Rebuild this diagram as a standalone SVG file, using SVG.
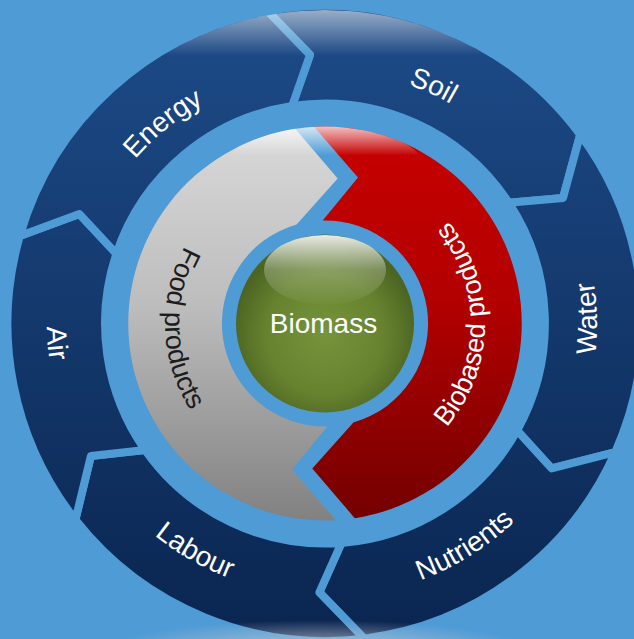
<svg xmlns="http://www.w3.org/2000/svg" width="634" height="639" viewBox="0 0 634 639">
  <style>
    .seg { fill: url(#ringFill); stroke: #4e9bd5; stroke-width: 8; stroke-linejoin: round; }
    .lbl { font-family: "Liberation Sans", Arial, sans-serif; font-size: 28px; fill: #ffffff; }
    .inner { font-size: 27px; }
    .dark { fill: #1c1c1c; }
  </style>
  <defs>
    <linearGradient id="ringFill" gradientUnits="userSpaceOnUse" x1="0" y1="10" x2="0" y2="637">
      <stop offset="0" stop-color="#1d4b88"/>
      <stop offset="1" stop-color="#0a2550"/>
    </linearGradient>
    <linearGradient id="grayFill" gradientUnits="userSpaceOnUse" x1="0" y1="127" x2="0" y2="521">
      <stop offset="0" stop-color="#d9d9d9"/>
      <stop offset="0.45" stop-color="#bdbdbd"/>
      <stop offset="1" stop-color="#818181"/>
    </linearGradient>
    <linearGradient id="redFill" gradientUnits="userSpaceOnUse" x1="0" y1="127" x2="0" y2="521">
      <stop offset="0" stop-color="#c80000"/>
      <stop offset="0.45" stop-color="#b20000"/>
      <stop offset="1" stop-color="#730000"/>
    </linearGradient>
    <radialGradient id="ballFill" gradientUnits="userSpaceOnUse" cx="325" cy="335" r="92">
      <stop offset="0" stop-color="#76943b"/>
      <stop offset="0.65" stop-color="#66822f"/>
      <stop offset="1" stop-color="#4d6522"/>
    </radialGradient>
    <linearGradient id="ringSheen" x1="0" y1="0" x2="0" y2="1">
      <stop offset="0" stop-color="#ffffff" stop-opacity="0.55"/>
      <stop offset="0.27" stop-color="#ffffff" stop-opacity="0"/>
    </linearGradient>
    <linearGradient id="bandSheen" x1="0" y1="0" x2="0" y2="1">
      <stop offset="0" stop-color="#ffffff" stop-opacity="0.8"/>
      <stop offset="0.34" stop-color="#ffffff" stop-opacity="0"/>
    </linearGradient>
    <linearGradient id="ballSheen" x1="0" y1="0" x2="0" y2="1">
      <stop offset="0" stop-color="#ffffff" stop-opacity="0.88"/>
      <stop offset="0.5" stop-color="#ffffff" stop-opacity="0.25"/>
      <stop offset="1" stop-color="#ffffff" stop-opacity="0.02"/>
    </linearGradient>
    <radialGradient id="floorGlow" cx="0.5" cy="0.5" r="0.5">
      <stop offset="0" stop-color="#c4cad3" stop-opacity="0.9"/>
      <stop offset="1" stop-color="#c4cad3" stop-opacity="0"/>
    </radialGradient>
    <clipPath id="clipRing"><circle cx="325" cy="323.5" r="313.5"/></clipPath>
    <clipPath id="clipBand"><circle cx="325" cy="323.5" r="197"/></clipPath>

    <!-- label baselines: clockwise arcs keep glyph tops outward, counter-clockwise arcs turn them inward -->
    <path id="arcEnergy" d="M75.38,297.26 A251,251 0 0 1 351.24,73.88"/>
    <path id="arcSoil" d="M236.40,86.52 A253,253 0 0 1 561.98,234.90"/>
    <path id="arcWater" d="M520.99,512.10 A272,272 0 0 0 513.60,127.51"/>
    <path id="arcNutrients" d="M263.83,590.58 A274,274 0 0 0 592.08,384.67"/>
    <path id="arcLabour" d="M62.64,395.27 A272,272 0 0 0 396.77,585.86"/>
    <path id="arcAir" d="M114.55,141.85 A278,278 0 0 0 143.35,533.95"/>
    <path id="arcFood" d="M291.73,167.00 A160,160 0 0 0 302.73,481.94"/>
    <path id="arcBio" d="M351.68,481.26 A160,160 0 0 0 353.88,166.13"/>
  </defs>

  <rect width="634" height="639" fill="#4e9bd5"/>

  <!-- outer ring of resources, six clockwise arrows -->
  <g id="resources">
    <g id="soil">
      <path class="seg" d="M267.7,11.2 A317.5,317.5 0 0 1 580.2,134.6 L563.0,198.0 L508.8,202.7 A220,220 0 0 0 292.1,106.0 L310.0,54.9 Z"/>
      <text class="lbl"><textPath href="#arcSoil" startOffset="50%" text-anchor="middle">Soil</textPath></text>
    </g>
    <g id="water">
      <path class="seg" d="M580.2,134.6 A317.5,317.5 0 0 1 615.3,452.1 L551.6,468.4 L517.1,430.5 A220,220 0 0 0 508.8,202.7 L563.0,198.0 Z"/>
      <text class="lbl"><textPath href="#arcWater" startOffset="50%" text-anchor="middle">Water</textPath></text>
    </g>
    <g id="nutrients">
      <path class="seg" d="M615.3,452.1 A317.5,317.5 0 0 1 364.2,638.6 L319.4,592.4 L341.5,542.9 A220,220 0 0 0 517.1,430.5 L551.6,468.4 Z"/>
      <text class="lbl"><textPath href="#arcNutrients" startOffset="50%" text-anchor="middle">Nutrients</textPath></text>
    </g>
    <g id="labour">
      <path class="seg" d="M364.2,638.6 A317.5,317.5 0 0 1 75.4,519.8 L90.9,456.0 L145.0,450.0 A220,220 0 0 0 341.5,542.9 L319.4,592.4 Z"/>
      <text class="lbl"><textPath href="#arcLabour" startOffset="50%" text-anchor="middle">Labour</textPath></text>
    </g>
    <g id="air">
      <path class="seg" d="M75.4,519.8 A317.5,317.5 0 0 1 19.8,236.0 L79.3,214.1 L116.4,253.7 A220,220 0 0 0 145.0,450.0 L90.9,456.0 Z"/>
      <text class="lbl"><textPath href="#arcAir" startOffset="50%" text-anchor="middle">Air</textPath></text>
    </g>
    <g id="energy">
      <path class="seg" d="M19.8,236.0 A317.5,317.5 0 0 1 267.7,11.2 L310.0,54.9 L292.1,106.0 A220,220 0 0 0 116.4,253.7 L79.3,214.1 Z"/>
      <text class="lbl"><textPath href="#arcEnergy" startOffset="50%" text-anchor="middle">Energy</textPath></text>
    </g>
    <ellipse cx="325" cy="95" rx="195" ry="85" fill="url(#ringSheen)" clip-path="url(#clipRing)"/>
  </g>

  <!-- inner band of products, two clockwise arrows -->
  <g id="products">
    <g id="food-products">
      <path fill="url(#grayFill)" d="M336.0,520.2 A197,197 0 0 1 295.2,128.8 L337.7,178.5 L296.6,224.5 A103,103 0 0 0 327.3,426.5 L292.0,469.5 Z"/>
      <text class="lbl inner dark"><textPath href="#arcFood" startOffset="50%" text-anchor="middle">Food products</textPath></text>
    </g>
    <g id="biobased-products">
      <path fill="url(#redFill)" d="M314.0,126.8 A197,197 0 0 1 354.8,518.2 L312.3,468.5 L353.4,422.5 A103,103 0 0 0 322.7,220.5 L358.0,177.5 Z"/>
      <text class="lbl inner"><textPath href="#arcBio" startOffset="50%" text-anchor="middle">Biobased products</textPath></text>
    </g>
    <ellipse cx="325" cy="170" rx="100" ry="45" fill="url(#bandSheen)" clip-path="url(#clipBand)"/>
  </g>

  <!-- centre ball -->
  <g id="biomass">
    <circle cx="325" cy="323.5" r="89" fill="url(#ballFill)"/>
    <ellipse cx="325" cy="270" rx="61" ry="35" fill="url(#ballSheen)"/>
    <text class="lbl" x="323.5" y="333.3" text-anchor="middle">Biomass</text>
  </g>

  <!-- soft glow under the wheel -->
  <ellipse cx="318" cy="652" rx="215" ry="32" fill="url(#floorGlow)"/>
</svg>
